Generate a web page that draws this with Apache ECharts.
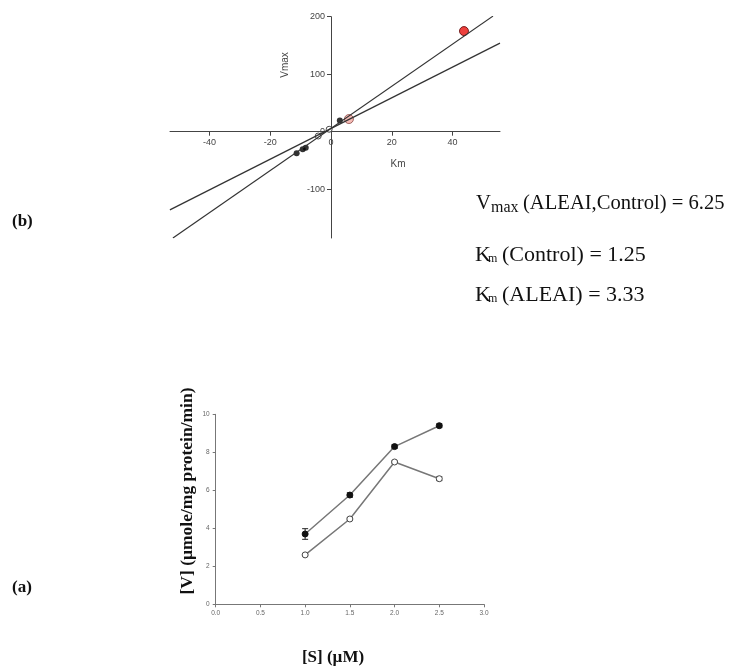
<!DOCTYPE html>
<html><head><meta charset="utf-8">
<script src="https://cdn.jsdelivr.net/npm/echarts@6/dist/echarts.min.js"></script>
<style>html,body{margin:0;padding:0;background:#fff}#c{width:731px;height:667px}</style>
</head><body><div id="c"></div><script>
// (b) direct linear plot
const kmTicks = [-40, -20, 0, 20, 40];
const vmaxTicks = [-100, 0, 100, 200];
const lineSteep = [[-52, -185], [53.3, 201]];
const lineShallow = [[-53, -136], [55.6, 154]];
const filledPts = [[-11.3, -37.6], [-9.3, -30.6], [-8.3, -27.8], [2.9, 19.5]];
const openPts = [[-4.2, -7.5], [-0.6, 4.2]];
const redPt = [[43.75, 175]];
const pinkPt = [[5.9, 22]];
// (a) velocity vs substrate
const sValues = [1.0, 1.5, 2.0, 2.5];
const controlV = [3.70, 5.75, 8.30, 9.40];
const controlErr = [0.28, 0.12, 0.10, 0.10];
const aleaiV = [2.60, 4.49, 7.49, 6.61];
const aleaiErr = [0.05, 0.06, 0.06, 0.10];

const serif = '"Liberation Serif","Times New Roman",serif';
const sans = '"Liberation Sans",Arial,sans-serif';

// top plot geometry
const gTop = {left: 170, top: 16.7, width: 330, height: 221.3};
const kmMin = -52.96, kmMax = 55.6, vMin = -184.9, vMax = 200;
const zeroY = gTop.top + gTop.height * vMax / (vMax - vMin);
const zeroX = gTop.left + gTop.width * (-kmMin) / (kmMax - kmMin);

function errItem(params, api) {
  const x = api.value(0), lo = api.value(1), hi = api.value(2);
  const a = api.coord([x, lo]), b = api.coord([x, hi]);
  const w = 3, st = {stroke: '#222', lineWidth: 1};
  return {type: 'group', children: [
    {type: 'line', shape: {x1: a[0], y1: a[1], x2: b[0], y2: b[1]}, style: st},
    {type: 'line', shape: {x1: a[0] - w, y1: a[1], x2: a[0] + w, y2: a[1]}, style: st},
    {type: 'line', shape: {x1: b[0] - w, y1: b[1], x2: b[0] + w, y2: b[1]}, style: st}
  ]};
}
const errData = (v, e) => sValues.map((s, i) => [s, v[i] - e[i], v[i] + e[i]]);

const chart = echarts.init(document.getElementById('c'));
chart.setOption({
  animation: false,
  backgroundColor: '#fff',
  grid: [
    Object.assign({containLabel: false, outerBoundsMode: 'none'}, gTop),
    {left: 215.7, top: 414.3, width: 268.3, height: 190, containLabel: false, outerBoundsMode: 'none'}
  ],
  xAxis: [
    {type: 'value', gridIndex: 0, min: kmMin, max: kmMax, position: 'bottom',
     offset: -(gTop.top + gTop.height - zeroY),
     splitLine: {show: false},
     axisLine: {onZero: false, lineStyle: {color: '#444', width: 1}},
     axisTick: {show: true, length: 4, lineStyle: {color: '#444'}, customValues: kmTicks},
     axisLabel: {customValues: kmTicks, fontSize: 9, color: '#444', fontFamily: sans, margin: 6}},
    {type: 'value', gridIndex: 1, min: 0, max: 3, interval: 0.5,
     splitLine: {show: false},
     axisLine: {lineStyle: {color: '#777', width: 1}},
     axisTick: {show: true, length: 3, lineStyle: {color: '#777'}},
     axisLabel: {fontSize: 6.5, color: '#666', fontFamily: sans, margin: 5,
                 formatter: v => v.toFixed(1)}}
  ],
  yAxis: [
    {type: 'value', gridIndex: 0, min: vMin, max: vMax, position: 'left',
     offset: -(zeroX - gTop.left),
     splitLine: {show: false},
     axisLine: {show: true, onZero: false, lineStyle: {color: '#444', width: 1}},
     axisTick: {show: true, length: 4, lineStyle: {color: '#444'}, customValues: vmaxTicks},
     axisLabel: {customValues: vmaxTicks, fontSize: 9, color: '#444', fontFamily: sans, margin: 6}},
    {type: 'value', gridIndex: 1, min: 0, max: 10, interval: 2,
     splitLine: {show: false},
     axisLine: {show: true, lineStyle: {color: '#777', width: 1}},
     axisTick: {show: true, length: 3, lineStyle: {color: '#777'}},
     axisLabel: {fontSize: 6.5, color: '#666', fontFamily: sans, margin: 6}}
  ],
  series: [
    {type: 'line', xAxisIndex: 0, yAxisIndex: 0, data: lineSteep, symbol: 'none',
     lineStyle: {color: '#333', width: 1.2}, silent: true},
    {type: 'line', xAxisIndex: 0, yAxisIndex: 0, data: lineShallow, symbol: 'none',
     lineStyle: {color: '#333', width: 1.2}, silent: true},
    {type: 'scatter', xAxisIndex: 0, yAxisIndex: 0, data: filledPts, symbolSize: 6,
     itemStyle: {color: '#000'}},
    {type: 'scatter', xAxisIndex: 0, yAxisIndex: 0, data: openPts, symbolSize: 6,
     itemStyle: {color: '#fff', borderColor: '#222', borderWidth: 1}},
    {type: 'scatter', xAxisIndex: 0, yAxisIndex: 0, data: pinkPt, symbolSize: 9,
     itemStyle: {color: '#f2aaa4', borderColor: '#8a4a46', borderWidth: 1}},
    {type: 'scatter', xAxisIndex: 0, yAxisIndex: 0, data: redPt, symbolSize: 9,
     itemStyle: {color: '#e8100c', borderColor: '#5a0000', borderWidth: 1}},

    {type: 'custom', xAxisIndex: 1, yAxisIndex: 1, renderItem: errItem,
     data: errData(controlV, controlErr), encode: {x: 0, y: [1, 2]}, z: 1},
    {type: 'custom', xAxisIndex: 1, yAxisIndex: 1, renderItem: errItem,
     data: errData(aleaiV, aleaiErr), encode: {x: 0, y: [1, 2]}, z: 1},
    {type: 'line', xAxisIndex: 1, yAxisIndex: 1, data: sValues.map((s, i) => [s, controlV[i]]),
     symbol: 'circle', symbolSize: 6, lineStyle: {color: '#777', width: 1.5},
     itemStyle: {color: '#111', borderColor: '#111'}, z: 3},
    {type: 'line', xAxisIndex: 1, yAxisIndex: 1, data: sValues.map((s, i) => [s, aleaiV[i]]),
     symbol: 'circle', symbolSize: 6, lineStyle: {color: '#777', width: 1.5},
     itemStyle: {color: '#fff', borderColor: '#444', borderWidth: 1}, z: 3}
  ],
  graphic: [
    {type: 'text', style: {text: 'Km', x: 398, y: 164, fontSize: 10, fontFamily: sans, fill: '#444', align: 'center', verticalAlign: 'middle'}},
    {type: 'text', rotation: Math.PI / 2, x: 285, y: 65, style: {text: 'Vmax', x: 0, y: 0, fontSize: 10, fontFamily: sans, fill: '#444', align: 'center', verticalAlign: 'middle'}},

    {type: 'text', style: {text: 'V', x: 476, y: 204, fontSize: 20.6, fontFamily: serif, fill: '#111', align: 'left', verticalAlign: 'middle'}},
    {type: 'text', style: {text: 'max', x: 491, y: 208, fontSize: 16, fontFamily: serif, fill: '#111', align: 'left', verticalAlign: 'middle'}},
    {type: 'text', style: {text: '(ALEAI,Control) = 6.25', x: 523, y: 204, fontSize: 20.6, fontFamily: serif, fill: '#111', align: 'left', verticalAlign: 'middle'}},

    {type: 'text', style: {text: 'K', x: 475, y: 255, fontSize: 22, fontFamily: serif, fill: '#111', align: 'left', verticalAlign: 'middle'}},
    {type: 'text', style: {text: 'm', x: 488, y: 259, fontSize: 12, fontFamily: serif, fill: '#111', align: 'left', verticalAlign: 'middle'}},
    {type: 'text', style: {text: '(Control) = 1.25', x: 502, y: 255, fontSize: 22, fontFamily: serif, fill: '#111', align: 'left', verticalAlign: 'middle'}},

    {type: 'text', style: {text: 'K', x: 475, y: 295, fontSize: 22, fontFamily: serif, fill: '#111', align: 'left', verticalAlign: 'middle'}},
    {type: 'text', style: {text: 'm', x: 488, y: 299, fontSize: 12, fontFamily: serif, fill: '#111', align: 'left', verticalAlign: 'middle'}},
    {type: 'text', style: {text: '(ALEAI) = 3.33', x: 502, y: 295, fontSize: 22, fontFamily: serif, fill: '#111', align: 'left', verticalAlign: 'middle'}},

    {type: 'text', style: {text: '(b)', x: 12, y: 222, fontSize: 17, fontWeight: 'bold', fontFamily: serif, fill: '#111', align: 'left', verticalAlign: 'middle'}},
    {type: 'text', style: {text: '(a)', x: 12, y: 588, fontSize: 17, fontWeight: 'bold', fontFamily: serif, fill: '#111', align: 'left', verticalAlign: 'middle'}},
    {type: 'text', style: {text: '[S] (µM)', x: 333, y: 658, fontSize: 17, fontWeight: 'bold', fontFamily: serif, fill: '#111', align: 'center', verticalAlign: 'middle'}},
    {type: 'text', rotation: Math.PI / 2, x: 187, y: 491, style: {text: '[V] (µmole/mg protein/min)', x: 0, y: 0, fontSize: 17.5, fontWeight: 'bold', fontFamily: serif, fill: '#111', align: 'center', verticalAlign: 'middle'}}
  ]
});
</script></body></html>
